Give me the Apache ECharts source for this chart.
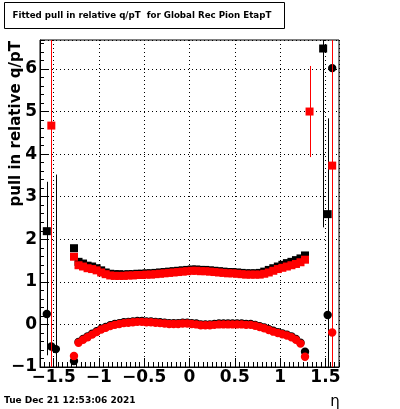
<!DOCTYPE html>
<html>
<head>
<meta charset="utf-8">
<script src="https://cdn.jsdelivr.net/npm/echarts@6/dist/echarts.min.js"></script>
<style>html,body{margin:0;padding:0;background:#fff}#c{width:400px;height:409px}</style>
</head>
<body>
<div id="c"></div>
<script>
// eta bin centres
const etaBins = [-1.575,-1.525,-1.475,-1.425,-1.375,-1.325,-1.275,-1.225,-1.175,-1.125,-1.075,-1.025,-0.975,-0.925,-0.875,-0.825,-0.775,-0.725,-0.675,-0.625,-0.575,-0.525,-0.475,-0.425,-0.375,-0.325,-0.275,-0.225,-0.175,-0.125,-0.075,-0.025,0.025,0.075,0.125,0.175,0.225,0.275,0.325,0.375,0.425,0.475,0.525,0.575,0.625,0.675,0.725,0.775,0.825,0.875,0.925,0.975,1.025,1.075,1.125,1.175,1.225,1.275,1.325,1.375,1.425,1.475,1.525,1.575];
// fitted sigma (squares), black
const sigmaBlack = [2.19,null,null,null,null,null,1.79,1.47,1.43,1.38,1.36,1.32,1.27,1.22,1.19,1.18,1.18,1.17,1.18,1.18,1.19,1.19,1.20,1.20,1.21,1.22,1.23,1.24,1.25,1.26,1.27,1.28,1.29,1.29,1.28,1.28,1.27,1.26,1.25,1.24,1.23,1.23,1.22,1.21,1.20,1.20,1.20,1.21,1.24,1.28,1.32,1.36,1.40,1.44,1.47,1.51,1.55,1.62,null,null,null,6.48,2.59,null];
const sigmaBlackErr = [1.16,0,0,0,0,0,0,0,0,0,0,0,0,0,0,0,0,0,0,0,0,0,0,0,0,0,0,0,0,0,0,0,0,0,0,0,0,0,0,0,0,0,0,0,0,0,0,0,0,0,0,0,0,0,0,0,0,0,0,0,0,4.2,2.25,0];
// fitted sigma (squares), red
const sigmaRed = [null,4.67,null,null,null,null,1.59,1.39,1.36,1.32,1.30,1.27,1.22,1.18,1.15,1.14,1.14,1.14,1.15,1.15,1.16,1.16,1.17,1.17,1.18,1.19,1.20,1.21,1.22,1.23,1.24,1.25,1.26,1.26,1.25,1.25,1.24,1.23,1.22,1.21,1.20,1.20,1.19,1.18,1.17,1.17,1.17,1.17,1.19,1.22,1.26,1.30,1.33,1.36,1.39,1.42,1.46,1.52,5.00,null,null,null,null,3.73];
const sigmaRedErr = [0,10,0,0,0,0,0,0,0,0,0,0,0,0,0,0,0,0,0,0,0,0,0,0,0,0,0,0,0,0,0,0,0,0,0,0,0,0,0,0,0,0,0,0,0,0,0,0,0,0,0,0,0,0,0,0,0,0,1.07,0,0,0,0,4.2];
// fitted mean (circles), black
const meanBlack = [0.245,-0.52,-0.58,null,null,null,-0.86,-0.41,-0.34,-0.28,-0.22,-0.16,-0.10,-0.06,-0.02,0.01,0.03,0.05,0.06,0.07,0.08,0.08,0.07,0.07,0.06,0.05,0.04,0.03,0.03,0.03,0.04,0.04,0.03,0.02,0.00,0.00,0.00,0.01,0.02,0.02,0.02,0.02,0.02,0.02,0.01,0.01,-0.01,-0.04,-0.07,-0.11,-0.15,-0.18,-0.21,-0.24,-0.28,-0.34,-0.43,-0.64,null,null,null,null,0.22,6.02];
const meanBlackErr = [0.97,2.0,4.1,0,0,0,0,0,0,0,0,0,0,0,0,0,0,0,0,0,0,0,0,0,0,0,0,0,0,0,0,0,0,0,0,0,0,0,0,0,0,0,0,0,0,0,0,0,0,0,0,0,0,0,0,0,0,0,0,0,0,0,1.6,0];
// fitted mean (circles), red
const meanRed = [null,null,null,null,null,null,-0.74,-0.43,-0.36,-0.30,-0.24,-0.18,-0.12,-0.08,-0.04,-0.01,0.01,0.03,0.04,0.05,0.06,0.06,0.05,0.05,0.04,0.03,0.02,0.01,0.01,0.01,0.02,0.02,0.01,0.00,-0.02,-0.02,-0.02,-0.01,0.00,0.00,0.00,0.00,0.00,0.00,-0.01,-0.01,-0.03,-0.06,-0.09,-0.13,-0.17,-0.20,-0.23,-0.26,-0.30,-0.36,-0.45,-0.76,null,null,null,null,null,-0.19];
const meanRedErr = [0,0,0,0,0,0,0,0,0,0,0,0,0,0,0,0,0,0,0,0,0,0,0,0,0,0,0,0,0,0,0,0,0,0,0,0,0,0,0,0,0,0,0,0,0,0,0,0,0,0,0,0,0,0,0,0,0,0,0,0,0,0,0,1.0];

const titleText = 'Fitted pull in relative q/pT  for Global Rec Pion EtapT';
const yTitle = 'pull in relative q/pT';
const xTitle = '\u03b7';
const dateText = 'Tue Dec 21 12:53:06 2021';

function toData(vals, errs) {
  const out = [];
  etaBins.forEach((x, i) => { if (vals[i] != null) out.push([x, vals[i], errs[i]]); });
  return out;
}
function makeRender(shape, color) {
  return function (params, api) {
    const x = api.value(0), y = api.value(1), e = api.value(2);
    const c = api.coord([x, y]);
    const children = [];
    if (e > 0) {
      const t = api.coord([x, y + e]);
      const b = api.coord([x, y - e]);
      const lx = Math.round(c[0]) + 0.5;
      children.push({type: 'line', shape: {x1: lx, y1: t[1], x2: lx, y2: b[1]}, style: {stroke: color, lineWidth: 1}});
    }
    if (shape === 'square') {
      children.push({type: 'rect', shape: {x: c[0] - 4, y: c[1] - 4, width: 8, height: 8}, style: {fill: color}});
    } else {
      children.push({type: 'circle', shape: {cx: c[0], cy: c[1], r: 4.2}, style: {fill: color}});
    }
    return {type: 'group', children: children};
  };
}
function series(name, vals, errs, shape, color) {
  return {name: name, type: 'custom', xAxisIndex: 0, yAxisIndex: 0, clip: true,
    data: toData(vals, errs), renderItem: makeRender(shape, color),
    encode: {x: 0, y: 1}, silent: true, animation: false};
}
const fmt = v => String(v).replace('-', '\u2212');
const labelStyle = {color: '#000', fontFamily: 'DejaVu Sans', fontWeight: 'bold', fontSize: 17};

const chart = echarts.init(document.getElementById('c'), null, {renderer: 'canvas'});
chart.setOption({
  animation: false,
  backgroundColor: '#fff',
  grid: {left: 40, right: 61, top: 40, bottom: 42, show: true, borderColor: '#000', borderWidth: 1, backgroundColor: '#fff', containLabel: false},
  xAxis: [
    {type: 'value', min: -1.65, max: 1.65, splitNumber: 5, position: 'bottom',
     axisLine: {onZero: false, lineStyle: {color: '#000', width: 1}},
     axisTick: {inside: true, length: 9, lineStyle: {color: '#000'}},
     axisLabel: Object.assign({margin: 2, formatter: fmt, showMinLabel: false, showMaxLabel: false}, labelStyle),
     splitLine: {show: true, lineStyle: {color: '#000', type: [1, 3], width: 1}}},
    {type: 'value', min: -1.65, max: 1.65, interval: 0.05, position: 'bottom',
     axisLine: {show: false, onZero: false}, axisLabel: {show: false}, splitLine: {show: false},
     axisTick: {inside: true, length: 5, lineStyle: {color: '#000'}}}
  ],
  yAxis: [
    {type: 'value', min: -1, max: 6.68, interval: 1, position: 'left',
     axisLine: {onZero: false, lineStyle: {color: '#000', width: 1}},
     axisTick: {inside: true, length: 8, lineStyle: {color: '#000'}},
     axisLabel: Object.assign({margin: 3, formatter: fmt, showMaxLabel: false}, labelStyle),
     splitLine: {show: true, lineStyle: {color: '#000', type: [1, 3], width: 1}}},
    {type: 'value', min: -1, max: 6.68, interval: 0.2, position: 'left',
     axisLine: {show: false, onZero: false}, axisLabel: {show: false}, splitLine: {show: false},
     axisTick: {inside: true, length: 4, lineStyle: {color: '#000'}}}
  ],
  series: [
    series('sigma black', sigmaBlack, sigmaBlackErr, 'square', '#000'),
    series('mean black', meanBlack, meanBlackErr, 'circle', '#000'),
    series('sigma red', sigmaRed, sigmaRedErr, 'square', '#f00'),
    series('mean red', meanRed, meanRedErr, 'circle', '#f00')
  ],
  graphic: [
    {type: 'rect', shape: {x: 4.5, y: 2.5, width: 280, height: 26}, style: {fill: '#fff', stroke: '#000', lineWidth: 1}, z: 10},
    {type: 'text', x: 12.5, y: 15.5, z: 11, style: {text: titleText, fill: '#000', font: 'bold 8.7px "DejaVu Sans"', textAlign: 'left', textVerticalAlign: 'middle'}},
    {type: 'text', x: 16.5, y: 41, rotation: Math.PI / 2, z: 11, style: {text: yTitle, fill: '#000', font: 'bold 15px "DejaVu Sans"', textAlign: 'right', textVerticalAlign: 'middle'}},
    {type: 'text', x: 4, y: 401, z: 11, style: {text: dateText, fill: '#000', font: 'bold 9px "DejaVu Sans"', textAlign: 'left', textVerticalAlign: 'middle'}},
    {type: 'text', x: 335, y: 402, z: 11, style: {text: xTitle, fill: '#000', font: '15px "DejaVu Sans"', textAlign: 'center', textVerticalAlign: 'middle'}}
  ]
});
</script>
</body>
</html>
